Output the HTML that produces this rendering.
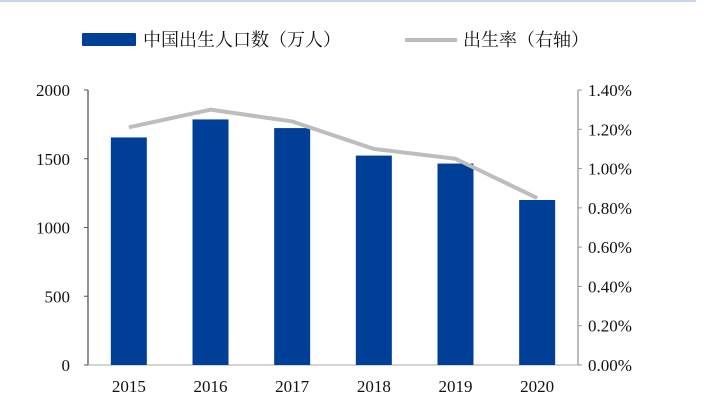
<!DOCTYPE html>
<html><head><meta charset="utf-8"><style>
body{margin:0;background:#fff;}
svg{display:block;font-family:"Liberation Serif","Noto Serif CJK SC",serif;}
</style></head><body>
<svg width="720" height="406" viewBox="0 0 720 406">
<line x1="0" y1="1" x2="696" y2="1" stroke="#c5d5ea" stroke-width="2"/>
<g>
<rect x="82" y="33" width="54" height="13" fill="#003f98" rx="1"/>
<text x="143" y="46" font-size="18" fill="#111">中国出生人口数（万人）</text>
<line x1="405" y1="40" x2="457" y2="40" stroke="#bdbdbd" stroke-width="4"/>
<text x="463" y="46" font-size="18" fill="#111">出生率（右轴）</text>
</g>
<g id="axes"></g>
<g id="bars"></g>
<g id="line"></g>
</svg>
<script>
const years=["2015","2016","2017","2018","2019","2020"];
const births=[1655,1786,1723,1523,1465,1200];
const rates=[1.21,1.30,1.24,1.10,1.05,0.85];
const leftTicks=[0,500,1000,1500,2000];
const rightTicks=[0,0.2,0.4,0.6,0.8,1.0,1.2,1.4];
const NS="http://www.w3.org/2000/svg";
const X0=88,X1=578,Y0=365,Y1=90;
const yL=v=>Y0-(v/2000)*(Y0-Y1);
const yR=v=>Y0-(v/1.4)*(Y0-Y1);
const band=(X1-X0)/years.length;
const xC=i=>X0+band*(i+0.5);
function mk(tag,attrs,parent){const e=document.createElementNS(NS,tag);for(const k in attrs)e.setAttribute(k,attrs[k]);parent.appendChild(e);return e;}
const ax=document.getElementById('axes');
let l=mk('line',{x1:X0,y1:Y1,x2:X0,y2:Y0,stroke:'#555','stroke-width':1.3},ax);


l=mk('line',{x1:X1,y1:Y1,x2:X1,y2:Y0,stroke:'#999','stroke-width':1.3},ax);


l=mk('line',{x1:X0,y1:Y0,x2:X1,y2:Y0,stroke:'#aaa','stroke-width':1},ax);


leftTicks.forEach(v=>{
 const t=mk('line',{x1:X0-4,y1:yL(v),x2:X0,y2:yL(v),stroke:'#555'},ax);
 
 
 const tx=mk('text',{x:X0-18,y:yL(v)+6,'font-size':17,'text-anchor':'end',fill:'#111'},ax);
 tx.textContent=v;
 
 
});
rightTicks.forEach(v=>{
 const t=mk('line',{x1:X1,y1:yR(v),x2:X1+4,y2:yR(v),stroke:'#999'},ax);
 
 
 const tx=mk('text',{x:X1+10,y:yR(v)+6,'font-size':17,fill:'#111'},ax);
 tx.textContent=v.toFixed(2)+'%';
 
 
});
years.forEach((y,i)=>{
 const tx=mk('text',{x:xC(i),y:392,'font-size':17,'text-anchor':'middle',fill:'#111'},ax);
 tx.textContent=y;
 
 
});
const bg=document.getElementById('bars');
births.forEach((v,i)=>{
 const r=mk('rect',{x:xC(i)-18,y:yL(v),width:36,height:Y0-yL(v),fill:'#003f98'},bg);
 
 
});
const lg=document.getElementById('line');
const p=mk('polyline',{points:rates.map((v,i)=>xC(i)+','+yR(v)).join(' '),fill:'none',stroke:'#bdbdbd','stroke-width':4,'stroke-linejoin':'round'},lg);


</script>
</body></html>
